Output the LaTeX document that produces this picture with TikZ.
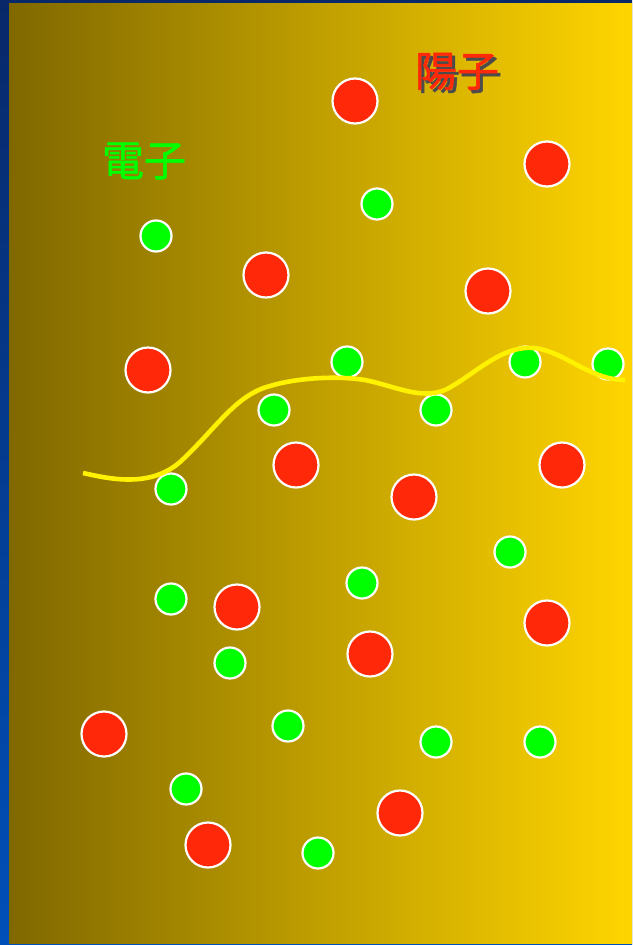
\documentclass[tikz,border=0pt]{standalone}
\usepackage{fontspec}
\newfontfamily\cjk{Noto Sans CJK JP}[FakeBold=1.2]
\definecolor{navytop}{RGB}{8,40,105}
\definecolor{navybot}{RGB}{0,80,185}
\definecolor{goldL}{RGB}{128,104,0}
\definecolor{goldR}{RGB}{255,213,0}
\definecolor{pred}{RGB}{255,40,8}
\definecolor{egreen}{RGB}{0,255,0}
\tikzset{
  proton/.style={circle,fill=pred,draw=white,line width=2.2pt,minimum size=45pt,inner sep=0pt},
  electron/.style={circle,fill=egreen,draw=white,line width=2.2pt,minimum size=31pt,inner sep=0pt},
  lbl/.style={font=\cjk\fontsize{42}{44}\selectfont,inner sep=0pt}
}
\begin{document}
\begin{tikzpicture}[x=1pt,y=-1pt]
\useasboundingbox (0,0) rectangle (632,945);
\shade[top color=navytop,bottom color=navybot] (0,0) rectangle (632,945);
\shade[left color=goldL,right color=goldR] (9,3) rectangle (632,943);
% protons
\foreach \n/\x/\y in {p1/355/101,p2/547/164,p3/266/275,p4/488/291,p5/148/370,p6/296/465,p7/414/497,p8/562/465,p9/237/607,p10/370/654,p11/547/623,p12/104/734,p13/400/813,p14/208/845}
  \node[proton] (\n) at (\x,\y) {};
% electrons
\foreach \n/\x/\y in {e1/377/204,e2/156/236,e3/347/362,e4/274/410,e5/436/410,e6/525/362,e7/608/364,e8/171/489,e9/510/552,e10/171/599,e11/362/583,e12/230/663,e13/288/726,e14/436/742,e15/540/742,e16/186/789,e17/318/853}
  \node[electron] (\n) at (\x,\y) {};
% wave
\coordinate (w0) at (83,473);
\coordinate (w1) at (625,380);
\draw[yellow,line width=4.6pt] (w0)
  .. controls (110,479) and (150,488) .. (180,462)
  .. controls (215,430) and (235,395) .. (270,386)
  .. controls (300,377) and (340,376) .. (365,380)
  .. controls (395,386) and (420,400) .. (445,390)
  .. controls (475,375) and (500,345) .. (535,348)
  .. controls (565,352) and (590,380) .. (w1);
% labels
\node[lbl] (lp) at (457,73) {\makebox[0pt][l]{\hspace{3pt}\raisebox{-3pt}{\color{black!70}陽子}}\textcolor{pred}{陽子}};
\node[lbl,text=egreen] (le) at (144,161) {電子};
\end{tikzpicture}
\end{document}
